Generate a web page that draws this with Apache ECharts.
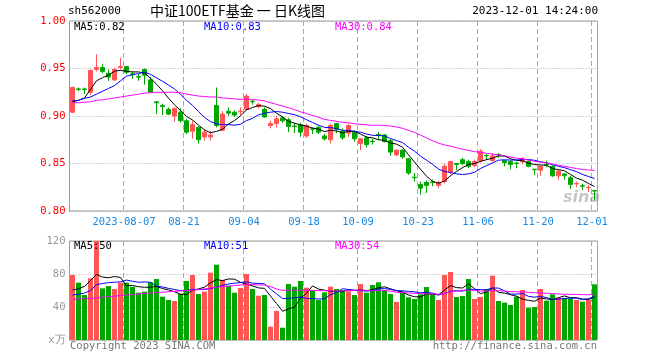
<!DOCTYPE html>
<html><head><meta charset="utf-8">
<script src="https://cdn.jsdelivr.net/npm/echarts@6/dist/echarts.min.js"></script>
<style>html,body{margin:0;padding:0;background:#fff}#c{width:660px;height:360px}</style>
</head><body><div id="c"></div>
<script>
// ---- data ----
const categories = [
 "2023-07-25","2023-07-26","2023-07-27","2023-07-28","2023-07-31",
 "2023-08-01","2023-08-02","2023-08-03","2023-08-04","2023-08-07","2023-08-08","2023-08-09","2023-08-10","2023-08-11",
 "2023-08-14","2023-08-15","2023-08-16","2023-08-17","2023-08-18","2023-08-21","2023-08-22","2023-08-23","2023-08-24","2023-08-25",
 "2023-08-28","2023-08-29","2023-08-30","2023-08-31",
 "2023-09-01","2023-09-04","2023-09-05","2023-09-06","2023-09-07","2023-09-08","2023-09-11","2023-09-12","2023-09-13","2023-09-14","2023-09-15",
 "2023-09-18","2023-09-19","2023-09-20","2023-09-21","2023-09-22","2023-09-25","2023-09-26","2023-09-27","2023-09-28",
 "2023-10-09","2023-10-10","2023-10-11","2023-10-12","2023-10-13","2023-10-16","2023-10-17","2023-10-18","2023-10-19","2023-10-20",
 "2023-10-23","2023-10-24","2023-10-25","2023-10-26","2023-10-27","2023-10-30","2023-10-31",
 "2023-11-01","2023-11-02","2023-11-03","2023-11-06","2023-11-07","2023-11-08","2023-11-09","2023-11-10","2023-11-13","2023-11-14",
 "2023-11-15","2023-11-16","2023-11-17","2023-11-20","2023-11-21","2023-11-22","2023-11-23","2023-11-24","2023-11-27","2023-11-28",
 "2023-11-29","2023-11-30","2023-12-01"];
const openP = [0.904,0.9285,0.9285,0.925,0.949,0.951,0.945,0.938,0.951,0.952,0.9445,0.9415,0.949,0.938,0.915,0.911,0.907,0.900,0.904,0.895,
 0.884,0.888,0.878,0.878,0.911,0.885,0.905,0.904,0.9045,0.907,0.9155,0.910,0.907,0.890,0.892,0.898,0.896,0.8895,0.891,0.879,
 0.8865,0.888,0.879,0.875,0.892,0.884,0.882,0.883,0.871,0.877,0.8735,0.8805,0.880,0.874,0.859,0.864,0.855,0.8355,0.828,0.830,
 0.8305,0.827,0.831,0.841,0.850,0.854,0.852,0.848,0.853,0.8585,0.853,0.8595,0.853,0.852,0.8505,0.852,0.852,0.844,0.843,0.849,
 0.847,0.837,0.839,0.835,0.8285,0.8265,0.8245,0.8215];
const closeP = [0.930,0.928,0.928,0.948,0.951,0.947,0.941,0.949,0.952,0.946,0.944,0.941,0.943,0.925,0.914,0.910,0.902,0.908,0.895,0.883,
 0.891,0.875,0.883,0.880,0.890,0.902,0.903,0.901,0.905,0.921,0.915,0.912,0.899,0.892,0.897,0.895,0.889,0.889,0.883,0.890,
 0.886,0.883,0.876,0.890,0.886,0.877,0.890,0.876,0.876,0.870,0.873,0.880,0.873,0.862,0.864,0.857,0.840,0.835,0.824,0.827,
 0.830,0.830,0.847,0.852,0.849,0.850,0.847,0.852,0.863,0.858,0.858,0.859,0.851,0.849,0.850,0.855,0.847,0.8435,0.847,0.8485,
 0.837,0.842,0.837,0.828,0.829,0.826,0.825,0.821];
const lowP = [0.903,0.926,0.9235,0.922,0.947,0.945,0.937,0.937,0.949,0.944,0.939,0.937,0.933,0.925,0.902,0.901,0.901,0.894,0.893,0.881,
 0.876,0.871,0.874,0.874,0.888,0.884,0.900,0.899,0.901,0.906,0.912,0.908,0.898,0.887,0.888,0.893,0.883,0.882,0.878,0.877,
 0.881,0.881,0.874,0.871,0.882,0.875,0.878,0.873,0.864,0.867,0.870,0.875,0.872,0.858,0.858,0.855,0.838,0.831,0.817,0.819,
 0.826,0.824,0.829,0.839,0.843,0.848,0.845,0.846,0.851,0.854,0.852,0.856,0.847,0.844,0.845,0.849,0.846,0.838,0.837,0.846,
 0.836,0.833,0.833,0.823,0.825,0.822,0.820,0.811];
const highP = [0.931,0.930,0.930,0.949,0.965,0.955,0.949,0.951,0.961,0.952,0.947,0.944,0.950,0.941,0.915,0.913,0.909,0.909,0.908,0.897,
 0.895,0.889,0.886,0.884,0.930,0.905,0.909,0.906,0.909,0.923,0.917,0.914,0.909,0.895,0.900,0.900,0.898,0.893,0.893,0.892,
 0.888,0.890,0.881,0.892,0.893,0.887,0.892,0.885,0.877,0.879,0.876,0.883,0.881,0.876,0.865,0.865,0.856,0.840,0.831,0.832,
 0.833,0.832,0.850,0.853,0.850,0.856,0.854,0.854,0.865,0.860,0.861,0.861,0.853,0.853,0.852,0.857,0.853,0.844,0.848,0.853,
 0.848,0.844,0.840,0.837,0.831,0.829,0.827,0.822];
// volume (x万)
const volume = [78.8,69.5,54.5,74.8,120,62.6,65.4,61.8,69.5,69.5,64.6,57.3,58.6,69.9,73.9,52.5,48.5,47.3,55.8,71.5,
 78.8,55.8,58.6,81.6,91.3,72.7,65.8,57.3,63.0,80.0,61.8,53.7,54.5,16.2,35.2,14.9,67.9,64.6,71.5,63.4,
 60.6,48.5,57.8,64.6,61.8,60.6,59.0,54.5,67.9,57.3,66.7,69.9,60.6,55.8,46.1,58.6,51.7,49.7,55.4,64.2,
 55.8,48.5,78.8,82.4,52.1,53.3,73.9,49.7,52.1,61.8,77.9,47.3,45.3,42.4,52.5,60.6,39.2,40.0,61.8,47.7,
 55.4,51.3,50.9,50.5,48.5,46.5,48.5,67.5];
// moving-average values before a full window exists
const ma5Head = [0.915,0.9165,0.919,0.928];
const ma10Head = [0.916,0.9165,0.9186,0.920,0.923,0.926,0.929,0.932,0.937];
const ma30Head = [0.914,0.914,0.9145,0.915,0.9165,0.917,0.918,0.919,0.920,0.921,0.922,0.923,0.924,0.9245,0.925,0.925,0.925,0.925,0.9245,0.923,
 0.922,0.921,0.9205,0.920,0.920,0.919,0.9185,0.918,0.9175];
const vma5Head = [60.6,62,65,72];
const vma10Head = [54.5,55.5,57,60,67,68.5,69.5,70,70.5];
const vma30Head = [49.3,49.6,50,50.5,51,52,52.5,53,54,54.5,55,55.8,56.5,57,57.5,58,58.5,59,59.5,60,60.6,61,62,63,64,64.6,65.3,66,66.5];
const tickDates = ["2023-08-07","2023-08-21","2023-09-04","2023-09-18","2023-10-09","2023-10-23","2023-11-06","2023-11-20","2023-12-01"];
const tickLabels = ["2023-08-07","08-21","09-04","09-18","10-09","10-23","11-06","11-20","12-01"];
const priceTicks = [0.80,0.85,0.90,0.95,1.00];
const volTicks = [0,40,80,120];
const headerCode = "sh562000";
const headerTitle = "中证100ETF基金 一 日K线图";
const headerTime = "2023-12-01 14:24:00";
const priceLegend = ["MA5:0.82","MA10:0.83","MA30:0.84"];
const volLegend = ["MA5:50","MA10:51","MA30:54"];

// ---- helpers ----
function sma(arr, n, head){
  return arr.map((v,i)=>{
    if(i < n-1) return head[i];
    let s=0; for(let k=i-n+1;k<=i;k++) s+=arr[k];
    return +(s/n).toFixed(4);
  });
}
const RED='#ff5555', GREEN='#00a600', MONO='DejaVu Sans Mono';
const isUp = closeP.map((c,i)=> c >= openP[i]);
const kData = categories.map((d,i)=>[openP[i],closeP[i],lowP[i],highP[i]]);
const volData = volume.map((v,i)=>({value:v,itemStyle:{color:isUp[i]?RED:GREEN}}));
const tickIdx = tickDates.map(d=>categories.indexOf(d));
const showTick = (i)=> tickIdx.indexOf(i) >= 0;

const L=69.5, W=528;
const dashed = {show:true, interval:(i)=>showTick(i), lineStyle:{color:'#aaaaaa', type:[5,3], width:1}};
const dotted = {show:true, lineStyle:{color:'#aaaaaa', type:[1,2], width:1}};

const chart = echarts.init(document.getElementById('c'), null, {renderer:'canvas'});
chart.setOption({
  animation:false,
  backgroundColor:'#ffffff',
  grid:[
    {left:L, top:21, width:W, height:190, show:true, borderColor:'#999999', borderWidth:1},
    {left:L, top:241, width:W, height:99, show:true, borderColor:'#999999', borderWidth:1}
  ],
  xAxis:[
    {type:'category', gridIndex:0, data:categories, boundaryGap:true,
     axisLine:{show:false}, axisTick:{show:false},
     axisLabel:{show:true, interval:(i)=>showTick(i), margin:6, color:'#1a88e0', fontFamily:MONO, fontSize:10.5,
       padding:[0,5,0,0],
       formatter:(v)=>{const k=tickDates.indexOf(v); return k>=0?tickLabels[k]:'';}},
     splitLine:dashed},
    {type:'category', gridIndex:1, data:categories, boundaryGap:true,
     axisLine:{show:false}, axisTick:{show:false}, axisLabel:{show:false}, splitLine:dashed}
  ],
  yAxis:[
    {type:'value', gridIndex:0, min:priceTicks[0], max:priceTicks[priceTicks.length-1], interval:0.05,
     axisLine:{show:false}, axisTick:{show:false},
     axisLabel:{color:'#ff0000', fontFamily:MONO, fontSize:10.5, margin:4, formatter:(v)=>v.toFixed(2)},
     splitLine:dotted},
    {type:'value', gridIndex:1, min:volTicks[0], max:volTicks[volTicks.length-1], interval:40,
     axisLine:{show:false}, axisTick:{show:false},
     axisLabel:{color:'#999999', fontFamily:MONO, fontSize:10.5, margin:4, formatter:(v)=> v===0?'x万':String(v)},
     splitLine:dotted}
  ],
  series:[
    {type:'candlestick', xAxisIndex:0, yAxisIndex:0, data:kData, barWidth:5,
     itemStyle:{color:RED, color0:GREEN, borderColor:RED, borderColor0:GREEN, borderWidth:1}},
    {type:'line', xAxisIndex:0, yAxisIndex:0, data:sma(closeP,5,ma5Head), symbol:'none', lineStyle:{color:'#000000', width:1}},
    {type:'line', xAxisIndex:0, yAxisIndex:0, data:sma(closeP,10,ma10Head), symbol:'none', lineStyle:{color:'#0000ff', width:1}},
    {type:'line', xAxisIndex:0, yAxisIndex:0, data:sma(closeP,30,ma30Head), symbol:'none', lineStyle:{color:'#ff00ff', width:1}},
    {type:'bar', xAxisIndex:1, yAxisIndex:1, data:volData, barWidth:5},
    {type:'line', xAxisIndex:1, yAxisIndex:1, data:sma(volume,5,vma5Head), symbol:'none', lineStyle:{color:'#000000', width:1}},
    {type:'line', xAxisIndex:1, yAxisIndex:1, data:sma(volume,10,vma10Head), symbol:'none', lineStyle:{color:'#0000ff', width:1}},
    {type:'line', xAxisIndex:1, yAxisIndex:1, data:sma(volume,30,vma30Head), symbol:'none', lineStyle:{color:'#ff00ff', width:1}}
  ],
  graphic:[
    {type:'text', left:68, top:6, style:{text:headerCode, fill:'#000', font:'11px '+MONO}},
    {type:'text', left:150, top:4, style:{text:headerTitle, fill:'#000', font:'14px "Noto Sans CJK SC"'}},
    {type:'text', right:62, top:6, style:{text:headerTime, fill:'#000', font:'11px '+MONO}},
    {type:'text', left:74, top:22, z:10, style:{text:priceLegend[0], fill:'#000000', font:'10.5px '+MONO}},
    {type:'text', left:204, top:22, z:10, style:{text:priceLegend[1], fill:'#0000ff', font:'10.5px '+MONO}},
    {type:'text', left:335, top:22, z:10, style:{text:priceLegend[2], fill:'#ff00ff', font:'10.5px '+MONO}},
    {type:'text', left:74, top:241, z:10, style:{text:volLegend[0], fill:'#000000', font:'10.5px '+MONO}},
    {type:'text', left:204, top:241, z:10, style:{text:volLegend[1], fill:'#0000ff', font:'10.5px '+MONO}},
    {type:'text', left:335, top:241, z:10, style:{text:volLegend[2], fill:'#ff00ff', font:'10.5px '+MONO}},
    {type:'text', left:70, top:341, style:{text:'Copyright 2023 SINA.COM', fill:'#777777', font:'10.5px '+MONO}},
    {type:'text', right:63, top:341, style:{text:'http://finance.sina.com.cn', fill:'#777777', font:'10.5px '+MONO}},
    {type:'text', left:563, top:190, z:1, style:{text:'sina', fill:'rgba(160,160,160,0.6)', font:'italic bold 16px "DejaVu Sans"'}}
  ]
});
</script></body></html>
